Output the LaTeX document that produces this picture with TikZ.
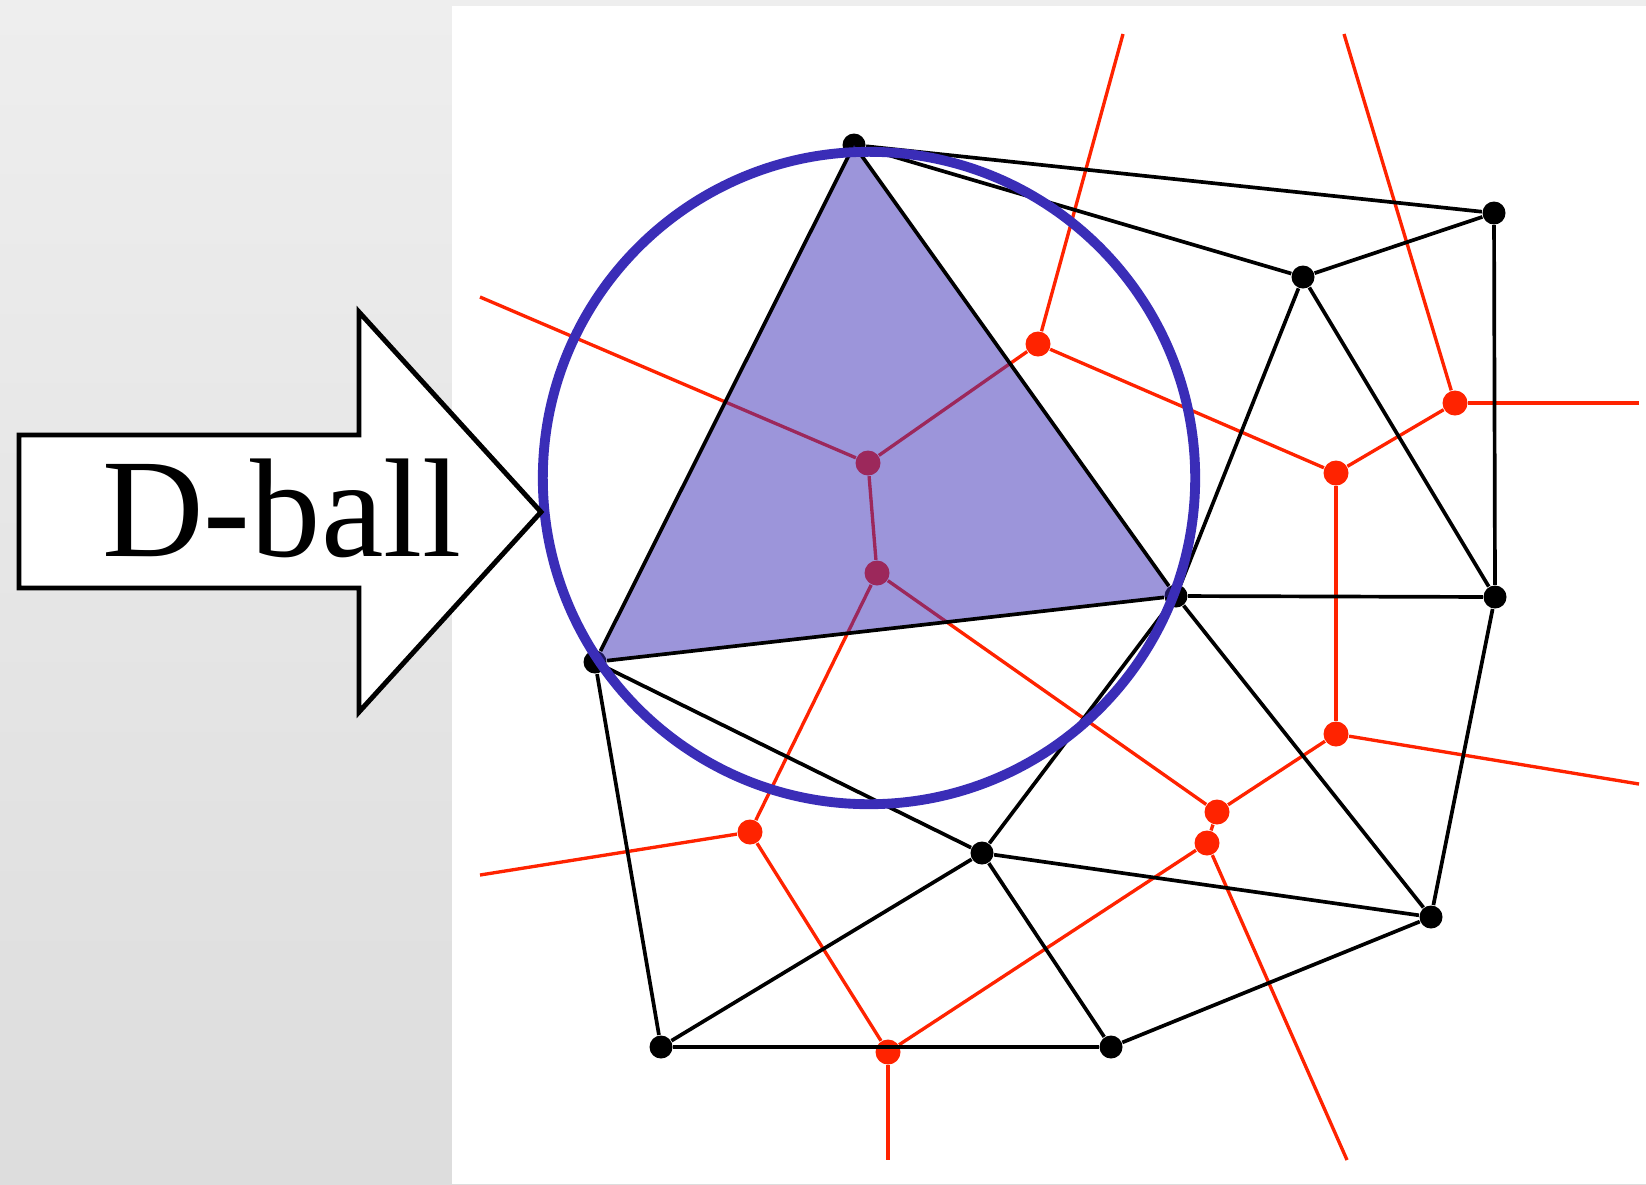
\documentclass[tikz,border=0pt]{standalone}
\usepackage{fontspec}
\setmainfont{Liberation Serif}

\definecolor{dballBlue}{RGB}{58,45,183}
\definecolor{dballRed}{RGB}{255,35,0}
\definecolor{dballGreyTop}{RGB}{238,238,238}
\definecolor{dballGreyBot}{RGB}{221,221,221}

\begin{document}
\begin{tikzpicture}[x=0.01cm, y=-0.01cm,
  delpt/.style={circle, fill=black, inner sep=0pt, minimum size=0.23cm},
  vorpt/.style={circle, fill=dballRed, inner sep=0pt, minimum size=0.25cm},
  deledge/.style={black, line width=1.05pt},
  voredge/.style={dballRed, line width=0.95pt}]
\useasboundingbox (0,0) rectangle (1646,1184);
%% Background: grey slide, white panel
\shade[top color=dballGreyTop, bottom color=dballGreyBot] (0,0) rectangle (1646,1184);
\fill[white] (452,6) rectangle (1646,1184);

%% Voronoi vertices and open ends of its rays
\node[vorpt] (v1)  at (868,463) {};
\node[vorpt] (v2)  at (877,573) {};
\node[vorpt] (v3)  at (1038,344) {};
\node[vorpt] (v4)  at (1336,473) {};
\node[vorpt] (v5)  at (1455,403) {};
\node[vorpt] (v6)  at (1336,734) {};
\node[vorpt] (v7)  at (1217,812) {};
\node[vorpt] (v8)  at (1207,843) {};
\node[vorpt] (v9)  at (750,832) {};
\node[vorpt] (v10) at (888,1052) {};
\coordinate (e1) at (480,297);
\coordinate (e2) at (1123,34);
\coordinate (e3) at (1344,34);
\coordinate (e4) at (1639,403);
\coordinate (e5) at (1639,784);
\coordinate (e6) at (1347,1160);
\coordinate (e7) at (888,1160);
\coordinate (e8) at (480,875);
%% Voronoi edges
\draw[voredge] (v1) -- (e1);
\draw[voredge] (v1) -- (v3);
\draw[voredge] (v1) -- (v2);
\draw[voredge] (v3) -- (e2);
\draw[voredge] (v3) -- (v4);
\draw[voredge] (v4) -- (v5);
\draw[voredge] (v4) -- (v6);
\draw[voredge] (v5) -- (e3);
\draw[voredge] (v5) -- (e4);
\draw[voredge] (v6) -- (e5);
\draw[voredge] (v6) -- (v7);
\draw[voredge] (v7) -- (v8);
\draw[voredge] (v2) -- (v7);
\draw[voredge] (v2) -- (v9);
\draw[voredge] (v9) -- (e8);
\draw[voredge] (v9) -- (v10);
\draw[voredge] (v8) -- (v10);
\draw[voredge] (v8) -- (e6);
\draw[voredge] (v10) -- (e7);

%% Delaunay points
\node[delpt] (pA) at (854,145) {};
\node[delpt] (pB) at (1494,213) {};
\node[delpt] (pC) at (1303,277) {};
\node[delpt] (pD) at (1495,597) {};
\node[delpt] (pE) at (1176,596) {};
\node[delpt] (pF) at (595,662) {};
\node[delpt] (pG) at (982,853) {};
\node[delpt] (pH) at (1431,917) {};
\node[delpt] (pI) at (661,1047) {};
\node[delpt] (pJ) at (1111,1047) {};

%% Shaded triangle
\fill[dballBlue, fill opacity=0.5] (pA.center) -- (pF.center) -- (pE.center) -- cycle;

%% Delaunay edges
\draw[deledge] (pA) -- (pB);
\draw[deledge] (pA) -- (pC);
\draw[deledge] (pA) -- (pF);
\draw[deledge] (pA) -- (pE);
\draw[deledge] (pB) -- (pC);
\draw[deledge] (pB) -- (pD);
\draw[deledge] (pC) -- (pE);
\draw[deledge] (pC) -- (pD);
\draw[deledge] (pE) -- (pD);
\draw[deledge] (pE) -- (pF);
\draw[deledge] (pE) -- (pG);
\draw[deledge] (pE) -- (pH);
\draw[deledge] (pF) -- (pG);
\draw[deledge] (pF) -- (pI);
\draw[deledge] (pG) -- (pI);
\draw[deledge] (pG) -- (pJ);
\draw[deledge] (pG) -- (pH);
\draw[deledge] (pH) -- (pD);
\draw[deledge] (pH) -- (pJ);
\draw[deledge] (pI) -- (pJ);

%% Empty circumscribed ball
\coordinate (ball) at (869,478);
\draw[dballBlue, line width=2.8pt] (ball) circle[radius=3.26cm];

%% Label arrow
\draw[line width=1.4pt, fill=white] (19,435) -- (359,435) -- (359,312) -- (541,512)
  -- (359,712) -- (359,588) -- (19,588) -- cycle;
\node[font=\fontsize{40}{48}\selectfont, anchor=base] (lbl) at (282,556) {D-ball};
\end{tikzpicture}
\end{document}
